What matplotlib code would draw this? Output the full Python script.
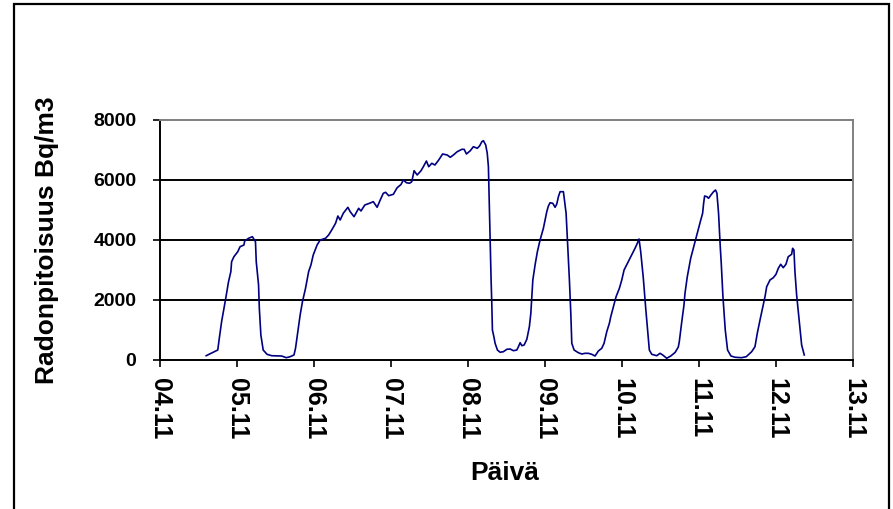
import matplotlib
matplotlib.use("Agg")
import matplotlib.pyplot as plt
from matplotlib.patches import Rectangle

# ── Data (day of November, radon Bq/m3) ──────────────────────────
days = [4.60, 4.75, 4.77, 4.80, 4.85, 4.89, 4.92, 4.93, 4.96, 5.01,
        5.04, 5.09, 5.10, 5.15, 5.20, 5.24, 5.25, 5.28, 5.29, 5.31,
        5.34, 5.39, 5.45, 5.58, 5.64, 5.69, 5.74, 5.76, 5.79, 5.82,
        5.85, 5.89, 5.93, 5.96, 5.99, 6.04, 6.08, 6.15, 6.19, 6.23,
        6.28, 6.31, 6.34, 6.38, 6.44, 6.47, 6.52, 6.58, 6.61, 6.66,
        6.72, 6.77, 6.82, 6.86, 6.90, 6.93, 6.97, 7.03, 7.08, 7.13,
        7.16, 7.20, 7.24, 7.27, 7.30, 7.34, 7.39, 7.42, 7.46, 7.49,
        7.53, 7.57, 7.62, 7.67, 7.73, 7.77, 7.81, 7.86, 7.92, 7.95,
        7.98, 8.03, 8.07, 8.12, 8.15, 8.18, 8.20, 8.23, 8.25, 8.265,
        8.274, 8.287, 8.300, 8.309, 8.317, 8.336, 8.352, 8.382, 8.417, 8.460,
        8.504, 8.547, 8.590, 8.634, 8.655, 8.677, 8.699, 8.729, 8.764, 8.797,
        8.816, 8.829, 8.842, 8.871, 8.901, 8.936, 8.979, 9.001, 9.023, 9.044,
        9.066, 9.101, 9.131, 9.153, 9.174, 9.196, 9.239, 9.252, 9.274, 9.296,
        9.317, 9.335, 9.348, 9.378, 9.433, 9.478, 9.520, 9.563, 9.607, 9.650,
        9.693, 9.737, 9.767, 9.802, 9.836, 9.854, 9.888, 9.923, 9.966, 9.997,
        10.027, 10.082, 10.126, 10.169, 10.199, 10.221, 10.243, 10.277, 10.308, 10.334,
        10.355, 10.386, 10.451, 10.494, 10.529, 10.581, 10.633, 10.689, 10.731, 10.744,
        10.775, 10.805, 10.818, 10.848, 10.892, 10.926, 10.970, 11.017, 11.047, 11.060,
        11.073, 11.103, 11.124, 11.155, 11.189, 11.215, 11.233, 11.254, 11.276, 11.289,
        11.311, 11.341, 11.371, 11.415, 11.471, 11.554, 11.614, 11.684, 11.727, 11.757,
        11.792, 11.827, 11.857, 11.879, 11.922, 11.965, 12.000, 12.030, 12.061, 12.094,
        12.129, 12.159, 12.203, 12.216, 12.233, 12.246, 12.268, 12.302, 12.320, 12.333,
        12.367]

radon = [143, 333, 723, 1277, 2000, 2610, 2943, 3277, 3443, 3610,
         3777, 3833, 3967, 4057, 4110, 3943, 3277, 2500, 1723, 833,
         333, 190, 143, 133, 77, 110, 167, 390, 943, 1500,
         1943, 2390, 2943, 3167, 3500, 3833, 4000, 4057, 4167, 4333,
         4557, 4800, 4667, 4890, 5090, 4943, 4777, 5057, 4967, 5167,
         5223, 5277, 5090, 5333, 5557, 5590, 5477, 5523, 5743, 5850,
         6000, 5910, 5890, 5943, 6310, 6167, 6310, 6443, 6633, 6443,
         6557, 6500, 6667, 6867, 6833, 6757, 6833, 6943, 7023, 7023,
         6867, 6977, 7110, 7057, 7133, 7277, 7310, 7167, 6890, 6443,
         5443, 4000, 2667, 1890, 1000, 777, 557, 333, 257, 277,
         357, 367, 310, 333, 443, 577, 477, 500, 690, 1110,
         1557, 2110, 2667, 3167, 3610, 4000, 4390, 4667, 4943, 5133,
         5243, 5223, 5090, 5200, 5443, 5610, 5610, 5333, 4890, 3777,
         2667, 1557, 557, 333, 243, 200, 223, 223, 190, 133,
         300, 390, 557, 943, 1223, 1443, 1777, 2110, 2390, 2667,
         3000, 3277, 3500, 3723, 3890, 4033, 3610, 2723, 1723, 943,
         333, 190, 143, 223, 167, 57, 133, 250, 430, 610,
         1250, 1833, 2223, 2777, 3390, 3723, 4167, 4610, 4890, 5223,
         5467, 5443, 5390, 5500, 5610, 5667, 5557, 4890, 3777, 3223,
         2110, 1000, 333, 133, 90, 77, 110, 277, 443, 890,
         1330, 1750, 2110, 2443, 2667, 2743, 2857, 3057, 3190, 3077,
         3190, 3443, 3523, 3723, 3667, 2943, 2167, 1277, 833, 500,
         167]

tick_days = [4, 5, 6, 7, 8, 9, 10, 11, 12, 13]
tick_labels = ["04.11", "05.11", "06.11", "07.11", "08.11",
               "09.11", "10.11", "11.11", "12.11", "13.11"]
y_ticks = [0, 2000, 4000, 6000, 8000]

plt.rcParams["font.family"] = "Liberation Sans"
plt.rcParams["font.weight"] = "bold"

W, H = 893, 509
fig = plt.figure(figsize=(W / 100, H / 100), dpi=100)
fig.patch.set_facecolor("white")

# outer chart frame (bottom edge is outside the picture)
fig.patches.append(Rectangle((14 / W, -0.05), (889 - 14) / W, 1.05 - 4 / H,
                             transform=fig.transFigure, fill=False,
                             edgecolor="black", lw=1.6, clip_on=False))

ax = fig.add_axes([160 / W, 1 - 360 / H, (853 - 160) / W, 240 / H])

for y in [2000, 4000, 6000]:
    ax.axhline(y, color="black", lw=1.4, zorder=1)

ax.plot(days, radon, color="#000080", lw=1.2, zorder=3)

ax.set_xlim(4, 13)
ax.set_ylim(0, 8000)
ax.set_xticks(tick_days)
ax.set_xticklabels(tick_labels, rotation=-90, fontsize=18, fontweight="bold")
ax.set_yticks(y_ticks)
ax.set_yticklabels([str(v) for v in y_ticks], fontsize=14, fontweight="bold")
ax.tick_params(axis="both", direction="out", length=5, width=1.2,
               color="black")
ax.tick_params(axis="x", pad=8)
ax.tick_params(axis="y", pad=12)

ax.spines["left"].set_color("black")
ax.spines["bottom"].set_color("black")
ax.spines["left"].set_linewidth(1.4)
ax.spines["bottom"].set_linewidth(1.4)
ax.spines["top"].set_color("#808080")
ax.spines["right"].set_color("#808080")
ax.spines["top"].set_linewidth(1.4)
ax.spines["right"].set_linewidth(1.4)

fig.text(505 / W, 1 - 473 / H, "Päivä", ha="center", va="center",
         fontsize=19, fontweight="bold")
fig.text(47 / W, 1 - 240 / H, "Radonpitoisuus Bq/m3", ha="center",
         va="center", rotation=90, fontsize=19, fontweight="bold")

fig.savefig("out.png", dpi=100)
